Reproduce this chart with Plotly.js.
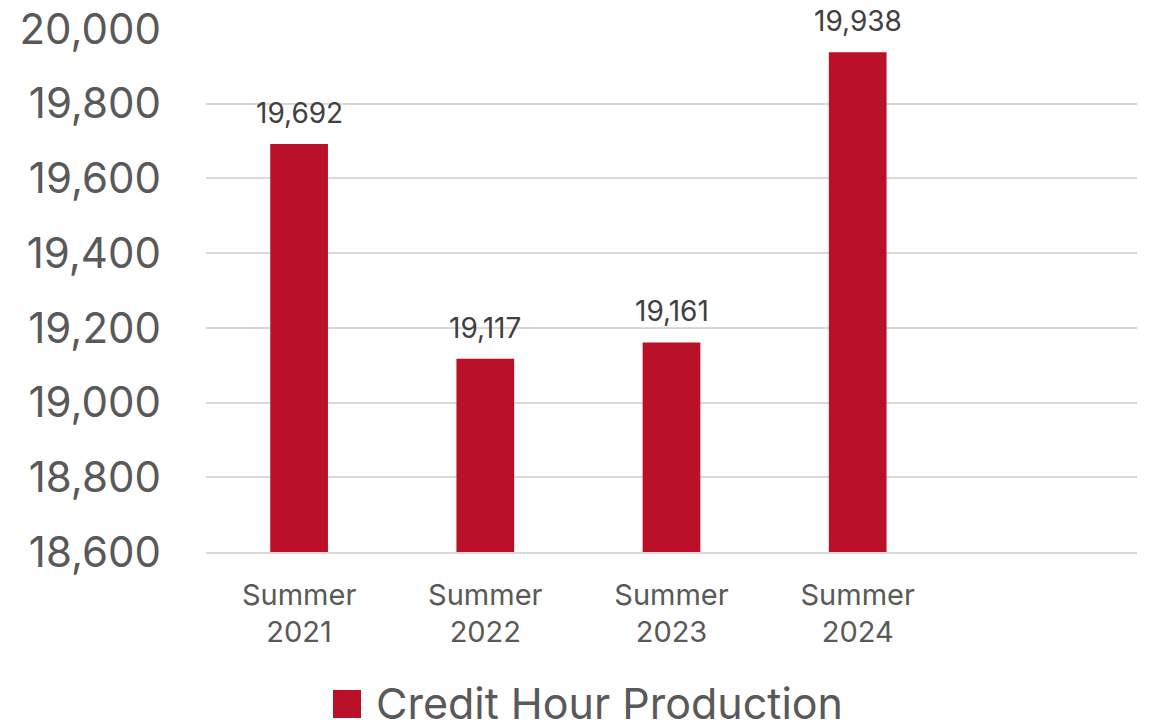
<!DOCTYPE html>
<html><head><meta charset="utf-8">
<script src="https://cdn.plot.ly/plotly-3.0.1.min.js"></script>
<style>html,body{margin:0;padding:0;background:#fff}</style>
</head><body><div id="chart" style="width:1152px;height:728px"></div>
<script>
const categories = ["Summer<br>2021", "Summer<br>2022", "Summer<br>2023", "Summer<br>2024"];
const creditHours = [19692, 19117, 19161, 19938];
const seriesName = "Credit Hour Production";
const yTicks = [18600, 18800, 19000, 19200, 19400, 19600, 19800, 20000];

const FONT = "Inter, 'Open Sans', sans-serif";
const BAR = "#BA1129";
const trace = {
  type: "bar", x: categories, y: creditHours, name: seriesName,
  marker: {color: BAR}, width: 0.31, showlegend: false, hoverinfo: "x+y"
};
const labels = categories.map((c, i) => ({
  x: c, y: creditHours[i], xref: "x", yref: "y",
  text: creditHours[i].toLocaleString("en-US"), showarrow: false,
  yanchor: "middle", yshift: 31,
  font: {family: FONT, size: 28, color: "#404040"}
}));
const layout = {
  width: 1152, height: 728,
  margin: {l: 206, r: 15, t: 29, b: 176, autoexpand: false},
  paper_bgcolor: "#fff", plot_bgcolor: "#fff",
  font: {family: FONT, color: "#595959"},
  xaxis: {type: "category", range: [-0.5, 4.5], showgrid: false, zeroline: false,
    showline: true, linecolor: "#d9d9d9", linewidth: 1.5, ticks: "",
    ticklabelstandoff: 16, tickfont: {size: 29, color: "#595959"}},
  yaxis: {range: [18600, 20000], tickvals: yTicks, tickformat: ",d",
    showgrid: true, gridcolor: "#d9d9d9", gridwidth: 1.5, zeroline: false,
    showline: false, ticks: "", ticklabelstandoff: 44,
    tickfont: {size: 42, color: "#595959"}},
  showlegend: false,
  shapes: [{type: "rect", xref: "paper", yref: "paper",
    x0: (333 - 206) / 931, x1: (361 - 206) / 931,
    y0: (552 - 718) / 523, y1: (552 - 690) / 523,
    fillcolor: BAR, line: {width: 0}}],
  annotations: labels.concat([{
    xref: "paper", yref: "paper", x: (374 - 206) / 931, y: (552 - 703) / 523,
    xanchor: "left", yanchor: "middle", showarrow: false, text: seriesName,
    font: {family: FONT, size: 43, color: "#595959"}
  }])
};
Plotly.newPlot("chart", [trace], layout, {displayModeBar: false});
</script></body></html>
